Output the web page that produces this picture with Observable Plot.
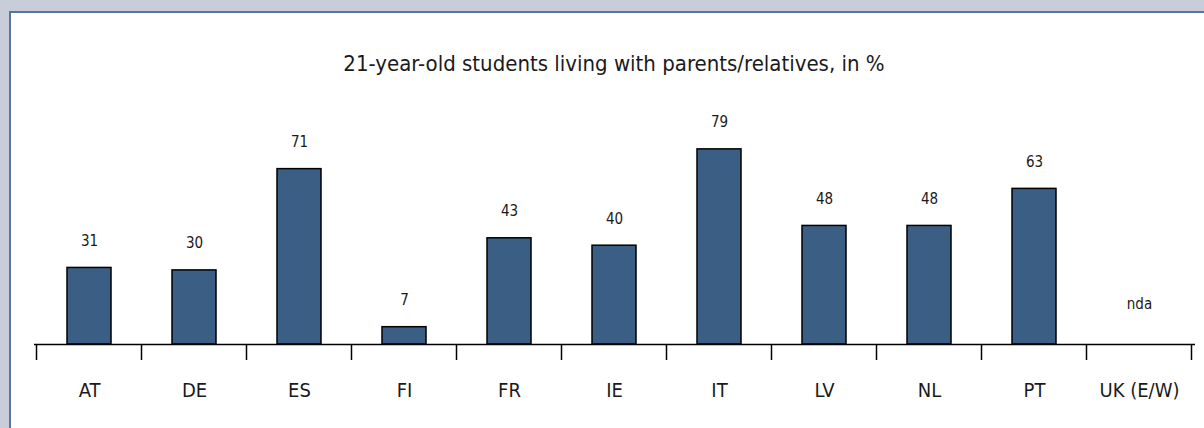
<!DOCTYPE html>
<html>
<head>
<meta charset="utf-8">
<script src="https://cdn.jsdelivr.net/npm/d3@7"></script>
<script src="https://cdn.jsdelivr.net/npm/@observablehq/plot@0.6"></script>
<style>
  html, body { margin: 0; padding: 0; width: 1204px; height: 428px; overflow: hidden; background: #c9ccd9; }
  #panel { position: absolute; left: 9px; top: 11px; width: 1300px; height: 500px; background: #fff;
           border-left: 2px solid #55779f; border-top: 2px solid #55779f; }
  #title { position: absolute; left: 0; width: 1228px; top: 50px; text-align: center;
           font-family: "Liberation Sans Narrow", "DejaVu Sans Condensed", sans-serif; font-stretch: condensed;
           font-size: 22px; color: #1a1a1a; line-height: 28px; }
  #chart { position: absolute; left: 0; top: 0; }
</style>
</head>
<body>
<div id="panel"></div>
<div id="title">21-year-old students living with parents/relatives, in %</div>
<div id="chart"></div>
<script>
const categories = ["AT", "DE", "ES", "FI", "FR", "IE", "IT", "LV", "NL", "PT", "UK (E/W)"];
const values = [31, 30, 71, 7, 43, 40, 79, 48, 48, 63, null];
const missingLabel = "nda";

const data = categories.map((c, i) => ({country: c, value: values[i]}));
const present = data.filter(d => d.value != null);
const missing = data.filter(d => d.value == null);

const FONT = '"Liberation Sans Narrow", "DejaVu Sans Condensed", sans-serif';

// tick marks at the boundaries between category cells, derived from the band scale
function bandTicks(index, scales, values, dimensions) {
  const x = scales.x;
  const bw = x.bandwidth();
  const step = x.step();
  const gap = (step - bw) / 2;
  const y0 = scales.y(0);
  const g = d3.create("svg:g").attr("stroke", "#000").attr("stroke-width", 1.5);
  const edges = categories.map(c => x(c) - gap);
  edges.push(x(categories[categories.length - 1]) + bw + gap);
  for (const e of edges) {
    g.append("line").attr("x1", e).attr("x2", e).attr("y1", y0).attr("y2", y0 + 16);
  }
  return g.node();
}

const chart = Plot.plot({
  width: 1204,
  height: 428,
  marginLeft: 34,
  marginRight: 9,
  marginTop: 97,
  marginBottom: 84,
  style: {background: "transparent", fontFamily: FONT},
  x: {domain: categories, paddingInner: 0.58, paddingOuter: 0.29, align: 0.5, axis: null},
  y: {domain: [0, 100], axis: null},
  marks: [
    Plot.barY(present, {x: "country", y: "value", fill: "#3b5e84", stroke: "#000", strokeWidth: 1.5}),
    Plot.ruleY([0], {stroke: "#000", strokeWidth: 1.5}),
    bandTicks,
    Plot.text(present, {x: "country", y: "value", text: d => String(d.value), dy: -27, fontSize: 15, fill: "#1a1a1a"}),
    Plot.text(missing, {x: "country", y: () => 0, text: () => missingLabel, dy: -40, fontSize: 15, fill: "#1a1a1a"}),
    Plot.text(categories, {x: d => d, frameAnchor: "bottom", dy: 52, fontSize: 20, fill: "#1a1a1a"})
  ]
});
document.getElementById("chart").appendChild(chart);
</script>
</body>
</html>
